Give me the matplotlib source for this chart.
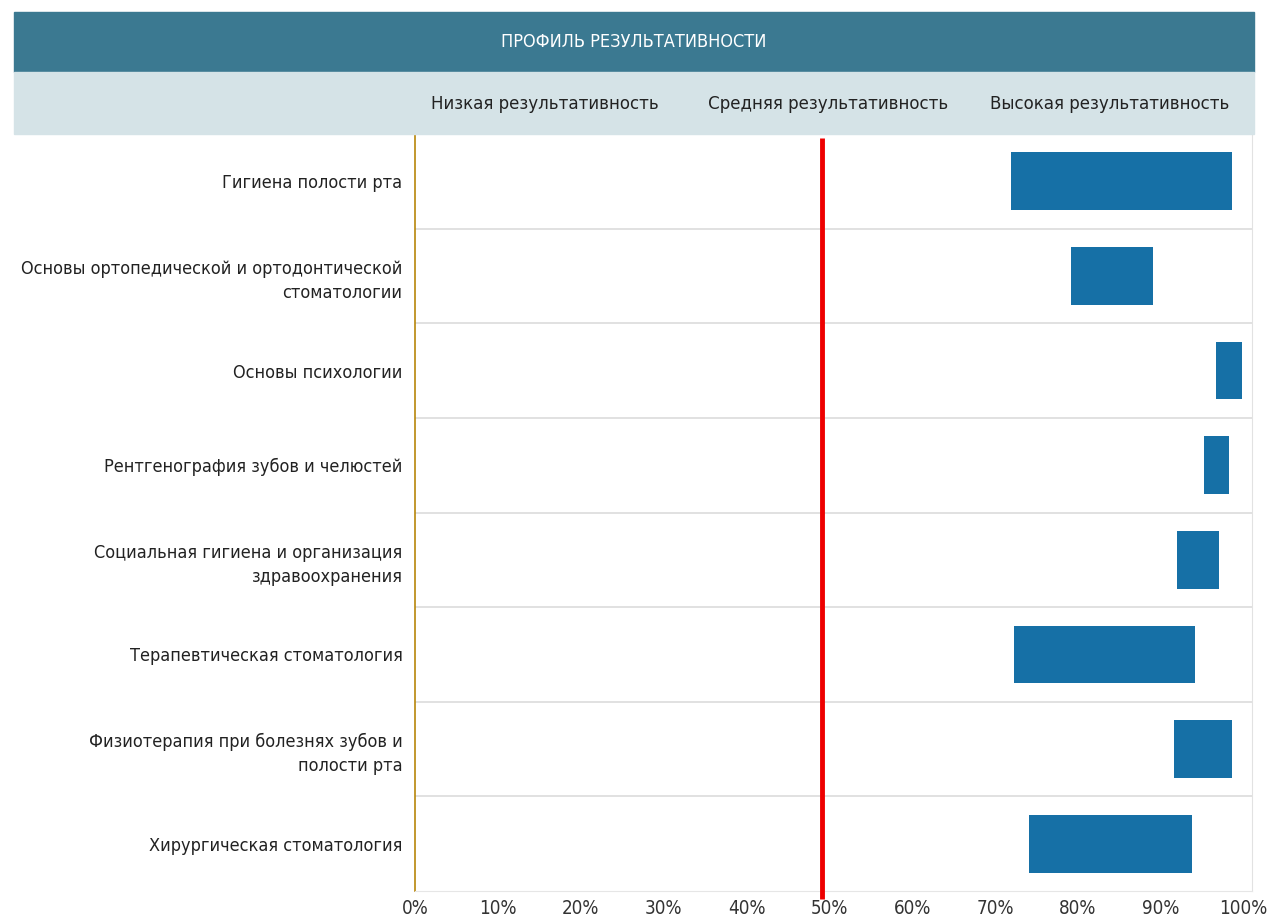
import matplotlib
matplotlib.use("Agg")
import matplotlib.pyplot as plt
from matplotlib.patches import Rectangle
import matplotlib.transforms as mtransforms

plt.rcParams['font.family'] = ['DejaVu Sans']
plt.rcParams['font.stretch'] = 'condensed'

categories = [
    "Гигиена полости рта",
    "Основы ортопедической и ортодонтической\nстоматологии",
    "Основы психологии",
    "Рентгенография зубов и челюстей",
    "Социальная гигиена и организация\nздравоохранения",
    "Терапевтическая стоматология",
    "Физиотерапия при болезнях зубов и\nполости рта",
    "Хирургическая стоматология",
]
bar_start = [71.9, 79.1, 96.6, 95.2, 92.0, 72.3, 91.6, 74.1]
bar_end = [98.6, 89.1, 99.8, 98.2, 97.0, 94.1, 98.6, 93.7]
xticks = [0, 10, 20, 30, 40, 50, 60, 70, 80, 90, 100]
xtick_labels = [f"{t}%" for t in xticks]
zone_labels = ["Низкая результативность", "Средняя результативность", "Высокая результативность"]
title = "ПРОФИЛЬ РЕЗУЛЬТАТИВНОСТИ"
threshold = 49.1

W, H = 1268, 919
fig = plt.figure(figsize=(W / 100, H / 100), dpi=100)

# header bands
fig.patches.append(Rectangle((14 / W, 1 - 72 / H), (1254 - 14) / W, 60 / H,
                             transform=fig.transFigure, color="#3b7991", zorder=0))
fig.patches.append(Rectangle((14 / W, 1 - 134 / H), (1254 - 14) / W, 62 / H,
                             transform=fig.transFigure, color="#d5e3e7", zorder=0))
fig.text(((14 + 1254) / 2) / W, 1 - 42 / H, title, color="white", fontsize=13,
         ha="center", va="center")

left, right = 415, 1252
top, bottom = 134, 891
xmax = 101.0
ax = fig.add_axes([left / W, 1 - bottom / H, (right - left) / W, (bottom - top) / H])

n = len(categories)
ypos = list(range(n))
widths = [e - s for s, e in zip(bar_start, bar_end)]
ax.barh(ypos, widths, left=bar_start, height=0.61, color="#1670a6", zorder=3)
ax.set_ylim(n - 0.5, -0.5)
ax.set_xlim(0, xmax)

for i in range(n - 1):
    ax.axhline(i + 0.5, color="#dcdcdc", lw=1.2, zorder=1)

# threshold line, extends slightly below plot area
trans = mtransforms.blended_transform_factory(ax.transData, fig.transFigure)
ax.plot([threshold, threshold], [1 - 138 / H, 1 - 899 / H], transform=trans,
        color="#ee0000", lw=3.5, zorder=5, clip_on=False, solid_capstyle="butt")

ax.set_yticks(ypos)
ax.set_yticklabels(categories, fontsize=13, color="#222222", ha="right",
                   multialignment="right", linespacing=1.45)
ax.set_xticks(xticks)
ax.set_xticklabels(xtick_labels, fontsize=13.5, color="#333333")
ax.tick_params(axis="both", length=0)
ax.tick_params(axis="y", pad=9)
ax.tick_params(axis="x", pad=6)

ax.spines["top"].set_visible(False)
ax.spines["left"].set_color("#b8860b")
ax.spines["left"].set_linewidth(1.2)
ax.spines["right"].set_color("#e2e2e2")
ax.spines["bottom"].set_color("#e6e6e6")

# zone labels in the light header band
zone_px = [545, 828, 1110]
for xp, lab in zip(zone_px, zone_labels):
    fig.text(xp / W, 1 - 104 / H, lab, ha="center", va="center",
             fontsize=13.3, color="#222222")

fig.savefig("out.png", dpi=100, facecolor="white")
